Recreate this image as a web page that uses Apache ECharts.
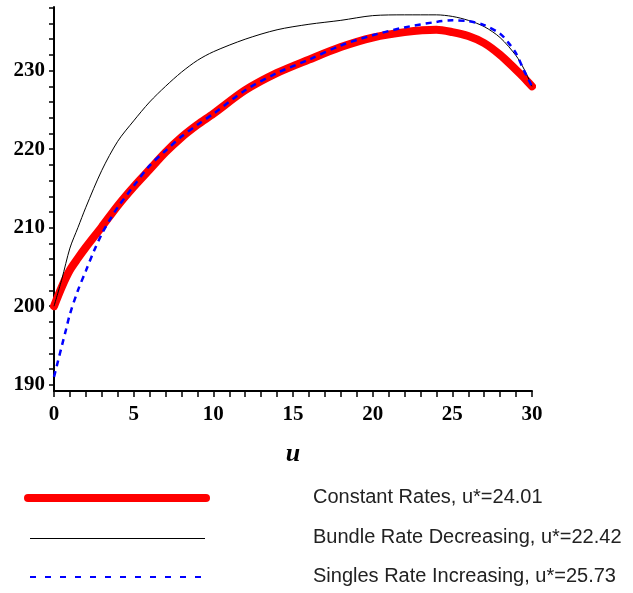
<!DOCTYPE html>
<html>
<head>
<meta charset="utf-8">
<script src="https://cdn.jsdelivr.net/npm/echarts@6/dist/echarts.min.js"></script>
<style>
  html, body { margin: 0; padding: 0; background: #fff; }
  #chart { width: 633px; height: 593px; }
</style>
</head>
<body>
<div id="chart"></div>
<script>
// Revenue as a function of u for three rate scenarios
const constU = [0, 0.5, 1, 1.5, 2, 3, 4, 5, 6, 7, 8, 9, 10, 12, 14, 16, 18, 20, 22, 24, 25, 26, 27, 28, 29, 29.5, 30];
const constV = [200.0, 202.5, 204.6, 206.1, 207.5, 210.1, 212.8, 215.2, 217.4, 219.6, 221.5, 223.1, 224.5, 227.5, 229.7, 231.4, 233.0, 234.2, 234.9, 235.2, 234.9, 234.4, 233.5, 232.0, 230.1, 229.1, 228.0];

const bundleU = [0, 0.5, 1, 1.5, 2, 3, 4, 5, 6, 7, 8, 9, 10, 12, 14, 16, 18, 20, 22, 24, 25, 26, 27, 28, 29, 29.5, 30];
const bundleV = [200.0, 203.5, 207.4, 210.0, 212.6, 217.3, 221.0, 223.6, 226.0, 228.0, 229.8, 231.3, 232.4, 234.0, 235.2, 235.9, 236.4, 237.0, 237.1, 237.1, 236.9, 236.4, 235.6, 234.2, 231.9, 230.2, 228.0];

const singlesU = [0, 0.25, 0.5, 0.75, 1, 1.5, 2, 2.5, 3, 3.5, 4, 5, 6, 7, 8, 9, 10, 12, 14, 16, 18, 20, 22, 24, 25, 26, 27, 28, 28.5, 29, 29.5, 30];
const singlesV = [191.0, 193.0, 195.0, 197.0, 199.0, 202.0, 204.5, 207.0, 209.2, 211.0, 212.6, 215.3, 217.9, 219.8, 221.6, 223.1, 224.5, 227.5, 229.7, 231.4, 233.2, 234.5, 235.5, 236.2, 236.4, 236.3, 235.8, 234.7, 233.6, 232.2, 230.0, 228.0];

const yLabels = [190, 200, 210, 220, 230];
const yTicks = [190, 192, 194, 196, 198, 200, 202, 204, 206, 208, 210, 212, 214, 216, 218, 220, 222, 224, 226, 228, 230, 232, 234, 236, 238];
const xTicks = [0, 1, 2, 3, 4, 5, 6, 7, 8, 9, 10, 11, 12, 13, 14, 15, 16, 17, 18, 19, 20, 21, 22, 23, 24, 25, 26, 27, 28, 29, 30];

const legendNames = [
  'Constant Rates, u*=24.01',
  'Bundle Rate Decreasing, u*=22.42',
  'Singles Rate Increasing, u*=25.73'
];

function pairs(xs, ys) { return xs.map((x, i) => [x, ys[i]]); }

const tickFont = { fontFamily: 'Liberation Serif', fontWeight: 'bold', fontSize: 21, color: '#000' };
const legendFont = '20px "Liberation Sans"';

const chart = echarts.init(document.getElementById('chart'), null, { renderer: 'canvas' });
chart.setOption({
  animation: false,
  backgroundColor: '#fff',
  grid: { left: 54, right: 101, top: 7, bottom: 202, containLabel: false },
  xAxis: {
    type: 'value', min: 0, max: 30, interval: 5,
    name: 'u', nameLocation: 'middle', nameGap: 50,
    nameTextStyle: { fontFamily: 'Liberation Serif', fontStyle: 'italic', fontWeight: 'bold', fontSize: 26, color: '#000' },
    axisLine: { lineStyle: { color: '#000', width: 2 } },
    axisTick: { customValues: xTicks, length: 6, lineStyle: { color: '#000', width: 1.5 } },
    axisLabel: Object.assign({ margin: 13 }, tickFont),
    splitLine: { show: false }
  },
  yAxis: {
    type: 'value', min: 189.2, max: 238.1,
    axisLine: { show: true, lineStyle: { color: '#000', width: 2 } },
    axisTick: { show: true, customValues: yTicks, length: 5, lineStyle: { color: '#000', width: 1.5 } },
    axisLabel: Object.assign({ customValues: yLabels, margin: 9 }, tickFont),
    splitLine: { show: false }
  },
  series: [
    {
      name: legendNames[0], type: 'line', data: pairs(constU, constV),
      smooth: 0.3, showSymbol: false,
      lineStyle: { color: '#ff0000', width: 8, cap: 'round', join: 'round' }
    },
    {
      name: legendNames[1], type: 'line', data: pairs(bundleU, bundleV),
      smooth: 0.3, showSymbol: false,
      lineStyle: { color: '#000', width: 1 }
    },
    {
      name: legendNames[2], type: 'line', data: pairs(singlesU, singlesV),
      smooth: 0.3, showSymbol: false,
      lineStyle: { color: '#0000ff', width: 2.5, type: [6, 5] }
    }
  ],
  graphic: [
    { type: 'line', shape: { x1: 28, y1: 498, x2: 206, y2: 498 }, style: { stroke: '#ff0000', lineWidth: 8, lineCap: 'round' } },
    { type: 'line', shape: { x1: 30, y1: 538.5, x2: 205, y2: 538.5 }, style: { stroke: '#000', lineWidth: 1 } },
    { type: 'line', shape: { x1: 30, y1: 577, x2: 205, y2: 577 }, style: { stroke: '#0000ff', lineWidth: 2, lineDash: [6, 9] } },
    { type: 'text', left: 313, top: 487, style: { text: legendNames[0], font: legendFont, fill: '#222' } },
    { type: 'text', left: 313, top: 527, style: { text: legendNames[1], font: legendFont, fill: '#222' } },
    { type: 'text', left: 313, top: 566, style: { text: legendNames[2], font: legendFont, fill: '#222' } }
  ]
});
</script>
</body>
</html>
